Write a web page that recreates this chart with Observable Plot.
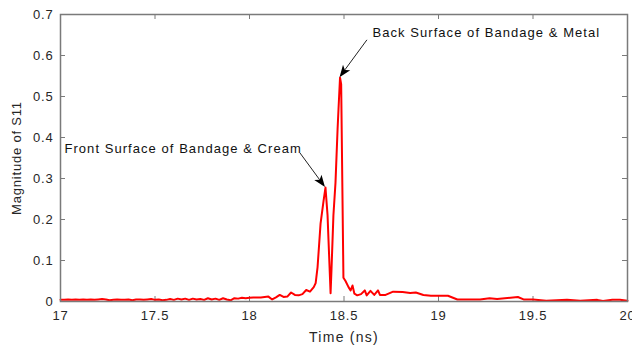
<!DOCTYPE html>
<html>
<head>
<meta charset="utf-8">
<script src="https://cdn.jsdelivr.net/npm/d3@7"></script>
<script src="https://cdn.jsdelivr.net/npm/@observablehq/plot@0.6"></script>
<style>
  html, body { margin: 0; padding: 0; background: #fff; }
  #chart svg { display: block; }
</style>
</head>
<body>
<div id="chart"></div>
<script>
// ---- data ----
const time = [
  17.00, 17.02, 17.04, 17.06, 17.08, 17.10, 17.12, 17.14, 17.16, 17.18,
  17.20, 17.22, 17.24, 17.26, 17.28, 17.30, 17.32, 17.34, 17.36, 17.38,
  17.40, 17.42, 17.44, 17.46, 17.48, 17.50, 17.52, 17.54, 17.56, 17.58,
  17.60, 17.62, 17.64, 17.66, 17.68, 17.70, 17.72, 17.74, 17.76, 17.78,
  17.80, 17.82, 17.84, 17.86, 17.88, 17.90, 17.92, 17.94, 17.96, 17.98,
  18.00, 18.02, 18.04, 18.06, 18.08, 18.10, 18.12, 18.14, 18.16, 18.18,
  18.20, 18.22, 18.24, 18.26, 18.28, 18.30, 18.32, 18.34, 18.35, 18.36,
  18.376, 18.392, 18.402, 18.413, 18.418, 18.429, 18.434, 18.444, 18.455, 18.466,
  18.471, 18.479, 18.485, 18.497, 18.508, 18.524, 18.535, 18.545, 18.555, 18.57,
  18.59, 18.61, 18.62, 18.64, 18.66, 18.68, 18.69, 18.72, 18.76, 18.81,
  18.85, 18.88, 18.92, 18.96, 19.05, 19.10, 19.22, 19.27, 19.31, 19.42,
  19.45, 19.50, 19.57, 19.68, 19.75, 19.84, 19.87, 19.92, 19.96, 20.00
];
const magnitude = [
  0.004, 0.004, 0.005, 0.004, 0.005, 0.004, 0.005, 0.004, 0.005, 0.004,
  0.005, 0.006, 0.005, 0.003, 0.004, 0.005, 0.004, 0.004, 0.005, 0.003,
  0.005, 0.005, 0.004, 0.005, 0.006, 0.004, 0.005, 0.003, 0.004, 0.006,
  0.004, 0.007, 0.005, 0.007, 0.004, 0.007, 0.005, 0.006, 0.004, 0.008,
  0.005, 0.007, 0.004, 0.008, 0.005, 0.003, 0.008, 0.007, 0.009, 0.008,
  0.009, 0.010, 0.010, 0.010, 0.011, 0.012, 0.005, 0.010, 0.016, 0.011,
  0.012, 0.022, 0.016, 0.015, 0.018, 0.028, 0.024, 0.035, 0.045, 0.083,
  0.19, 0.246, 0.278, 0.21, 0.15, 0.02, 0.08, 0.21, 0.29, 0.42,
  0.47, 0.546, 0.53, 0.058, 0.05, 0.035, 0.027, 0.039, 0.019, 0.015,
  0.018, 0.027, 0.015, 0.026, 0.016, 0.027, 0.016, 0.016, 0.024, 0.023,
  0.021, 0.022, 0.016, 0.014, 0.014, 0.005, 0.005, 0.008, 0.006, 0.011,
  0.005, 0.005, 0.002, 0.004, 0.002, 0.004, 0.001, 0.004, 0.004, 0.002
];
const xTicks = [17, 17.5, 18, 18.5, 19, 19.5, 20];
const yTicks = [0, 0.1, 0.2, 0.3, 0.4, 0.5, 0.6, 0.7];
const xLabel = "Time (ns)";
const yLabel = "Magnitude of S11";

// annotation texts, text anchor positions, arrow start and target peak
const noteLabels = ["Front Surface of Bandage & Cream", "Back Surface of Bandage & Metal"];
const noteTextX = [17.021, 18.651];
const noteTextY = [0.373, 0.656];
const noteStartX = [18.27, 18.624];
const noteStartY = [0.361, 0.637];
const notePeakIndex = [72, 81]; // indices in the series

const series = time.map((t, i) => ({t, m: magnitude[i]}));
const notes = noteLabels.map((label, i) => ({
  label, tx: noteTextX[i], ty: noteTextY[i],
  sx: noteStartX[i], sy: noteStartY[i],
  px: time[notePeakIndex[i]], py: magnitude[notePeakIndex[i]]
}));

const W = 632, H = 347;
const mL = 60, mR = 5, mT = 14, mB = 46;
const innerW = W - mL - mR, innerH = H - mT - mB;
const tickLen = 5;
const frameColor = "#7a7a7a";
const textColor = "#262626";

function spacing(px) {
  return (index, scales, values, dims, context, next) => {
    const g = next(index, scales, values, dims, context);
    if (g) g.setAttribute("letter-spacing", px + "px");
    return g;
  };
}

function arrowMark(data) {
  return (index, scales) => {
    const g = d3.create("svg:g");
    for (const a of data) {
      const x1 = scales.x(a.sx), y1 = scales.y(a.sy);
      const x2 = scales.x(a.px), y2 = scales.y(a.py);
      const ang = Math.atan2(y2 - y1, x2 - x1);
      const ux = Math.cos(ang), uy = Math.sin(ang), nx = -uy, ny = ux;
      const L = 12, Wd = 4.5, notch = 3;
      const bx = x2 - L * ux, by = y2 - L * uy;
      const kx = x2 - (L - notch) * ux, ky = y2 - (L - notch) * uy;
      g.append("line")
        .attr("x1", x1).attr("y1", y1).attr("x2", kx).attr("y2", ky)
        .attr("stroke", "#222").attr("stroke-width", 1);
      g.append("path")
        .attr("d", `M${x2},${y2}L${bx + Wd * nx},${by + Wd * ny}L${kx},${ky}L${bx - Wd * nx},${by - Wd * ny}Z`)
        .attr("fill", "#000");
    }
    return g.node();
  };
}

const chart = Plot.plot({
  width: W, height: H,
  marginLeft: mL, marginRight: mR, marginTop: mT, marginBottom: mB,
  style: {fontFamily: "'Liberation Sans', Arial, sans-serif", fontSize: "13px", color: textColor, background: "#fff", letterSpacing: "0.8px"},
  x: {domain: [17, 20]},
  y: {domain: [0, 0.7]},
  marks: [
    Plot.axisX({ticks: xTicks, tickSize: 0, tickPadding: 9, fontSize: 13, fill: textColor,
      tickFormat: d => String(d), label: null}),
    Plot.axisY({ticks: yTicks, tickSize: 0, tickPadding: 7, fontSize: 13, fill: textColor,
      tickFormat: d => d === 0 ? "0" : d.toFixed(1),
      label: yLabel, labelAnchor: "center", labelArrow: "none", labelOffset: 49}),
    Plot.text([xLabel], {frameAnchor: "bottom", dy: 36, text: d => d, fontSize: 14, fill: textColor,
      lineAnchor: "middle", render: spacing(1.25)}),
    // inward ticks (MATLAB style) on all four sides
    Plot.tickX(xTicks, {x: d => d, insetTop: innerH - tickLen, stroke: frameColor, strokeWidth: 1}),
    Plot.tickX(xTicks, {x: d => d, insetBottom: innerH - tickLen, stroke: frameColor, strokeWidth: 1}),
    Plot.tickY(yTicks, {y: d => d, insetRight: innerW - tickLen, stroke: frameColor, strokeWidth: 1}),
    Plot.tickY(yTicks, {y: d => d, insetLeft: innerW - tickLen, stroke: frameColor, strokeWidth: 1}),
    Plot.line(series, {x: "t", y: "m", stroke: "#ff0000", strokeWidth: 2, strokeLinejoin: "round"}),
    Plot.frame({stroke: frameColor, strokeWidth: 1.5}),
    arrowMark(notes),
    Plot.text(notes, {x: "tx", y: "ty", text: "label", textAnchor: "start", fill: "#111", fontSize: 13,
      render: spacing(1.05)})
  ]
});
document.getElementById("chart").appendChild(chart);
</script>
</body>
</html>
